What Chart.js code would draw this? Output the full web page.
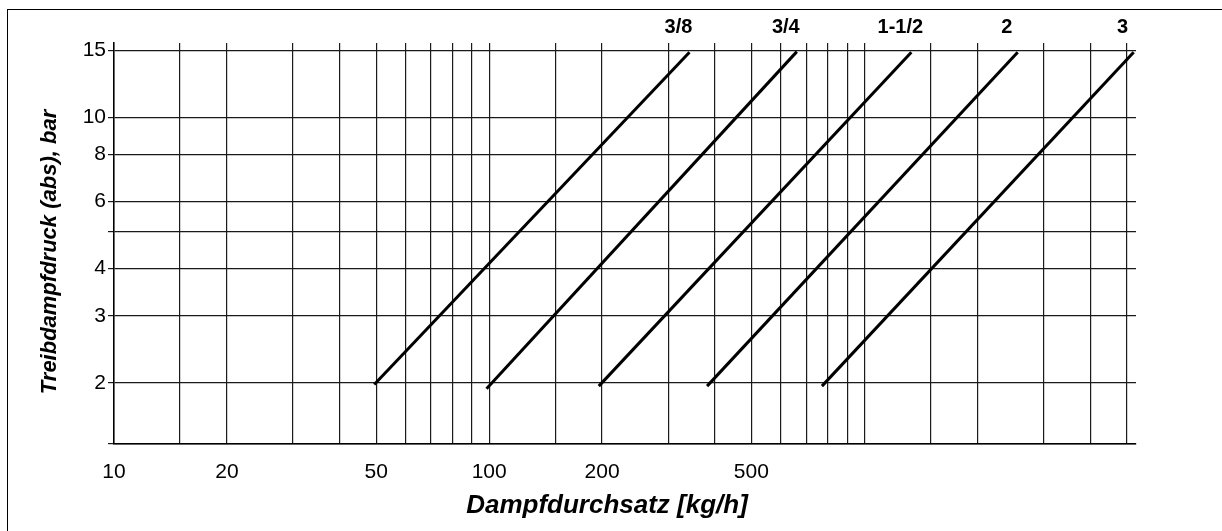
<!DOCTYPE html>
<html>
<head>
<meta charset="utf-8">
<script src="https://cdn.jsdelivr.net/npm/chart.js@4.4.1/dist/chart.umd.min.js"></script>
<style>
  html, body { margin: 0; padding: 0; background: #fff; overflow: hidden; }
  #wrap { position: relative; width: 1222px; height: 531px; }
  #frame { position: absolute; left: 7px; top: 9px; width: 1215px; height: 522px;
           border-top: 1px solid #000; border-left: 1px solid #000; pointer-events: none; box-sizing: border-box; }
</style>
</head>
<body>
<div id="wrap">
  <canvas id="c"></canvas>
  <div id="frame"></div>
</div>
<script>
// ---- data ----
const sizes      = ['3/8', '3/4', '1-1/2', '2', '3'];   // nominal sizes
const flowStart  = [49.4, 98.4, 196, 381, 771];          // kg/h at lower end
const pressStart = [1.98, 1.93, 1.96, 1.96, 1.96];       // bar at lower end
const flowEnd    = [342, 661, 1335, 2564, 5225];         // kg/h at upper end
const pressEnd   = [14.85, 14.9, 14.85, 14.85, 14.85];   // bar at upper end

const xMin = 10, xMax = 5300;
const yMin = 1.38, yMax = 15.7;
const xGridValues = [10, 15, 20, 30, 40, 50, 60, 70, 80, 90,
                     100, 150, 200, 300, 400, 500, 600, 700, 800, 900,
                     1000, 1500, 2000, 3000, 4000, 5000];
const xTickLabels = [10, 20, 50, 100, 200, 500];
const yGridValues = [2, 3, 4, 5, 6, 8, 10, 15];
const yTickLabels = [2, 3, 4, 6, 8, 10, 15];
const xTitle = 'Dampfdurchsatz [kg/h]';
const yTitle = 'Treibdampfdruck (abs), bar';

const FONT = "'Liberation Sans', Arial, Helvetica, sans-serif";

const datasets = sizes.map((s, i) => ({
  label: s,
  data: [{x: flowStart[i], y: pressStart[i]}, {x: flowEnd[i], y: pressEnd[i]}],
  borderColor: '#000',
  borderWidth: 3,
  pointRadius: 0,
  fill: false,
  tension: 0
}));

// size labels above each line, and the two axis titles
const annotations = {
  id: 'annotations',
  afterDatasetsDraw(chart) {
    const {ctx, chartArea} = chart;
    const xs = chart.scales.x;
    ctx.save();
    ctx.fillStyle = '#000';
    ctx.textAlign = 'center';
    ctx.textBaseline = 'middle';
    ctx.font = 'bold 20px ' + FONT;
    sizes.forEach((s, i) => {
      const px = xs.getPixelForValue(flowEnd[i]) - 11;
      ctx.fillText(s, px, chartArea.top - 16);
    });
    // x axis title
    ctx.font = 'italic bold 26px ' + FONT;
    ctx.fillText(xTitle, chartArea.left + 493, chartArea.bottom + 62);
    // y axis title
    ctx.translate(chartArea.left - 64, chartArea.top + 209);
    ctx.rotate(-Math.PI / 2);
    ctx.font = 'italic bold 22px ' + FONT;
    ctx.fillText(yTitle, 0, 0);
    ctx.restore();
  }
};

new Chart(document.getElementById('c'), {
  type: 'line',
  data: { datasets },
  plugins: [annotations],
  options: {
    responsive: true,
    maintainAspectRatio: false,
    animation: false,
    events: [],
    layout: { padding: { top: 43, right: 86, left: 0, bottom: 0 } },
    plugins: { legend: { display: false }, tooltip: { enabled: false } },
    scales: {
      x: {
        type: 'logarithmic',
        min: xMin, max: xMax,
        bounds: 'data',
        afterBuildTicks: (sc) => { sc.ticks = xGridValues.map(v => ({value: v})); },
        afterFit: (sc) => { sc.height = 87; },
        grid: { color: '#1a1a1a', lineWidth: 1.2, drawTicks: false },
        border: { color: '#000', width: 1.5 },
        ticks: {
          autoSkip: false, maxRotation: 0, padding: 16, color: '#000',
          font: { family: FONT, size: 21 },
          callback: (v) => xTickLabels.includes(v) ? String(v) : ''
        },
        title: { display: false, text: xTitle }
      },
      y: {
        type: 'logarithmic',
        min: yMin, max: yMax,
        bounds: 'data',
        afterBuildTicks: (sc) => { sc.ticks = [yMin, ...yGridValues].map(v => ({value: v})); },
        afterFit: (sc) => { sc.width = 114; },
        grid: { color: '#1a1a1a', lineWidth: 1.2, drawTicks: true, tickLength: 6 },
        border: { color: '#000', width: 1.5 },
        ticks: {
          autoSkip: false, padding: 2, color: '#000',
          font: { family: FONT, size: 21 },
          callback: (v) => yTickLabels.includes(v) ? String(v) : ''
        },
        title: { display: false, text: yTitle }
      }
    }
  }
});
</script>
</body>
</html>
